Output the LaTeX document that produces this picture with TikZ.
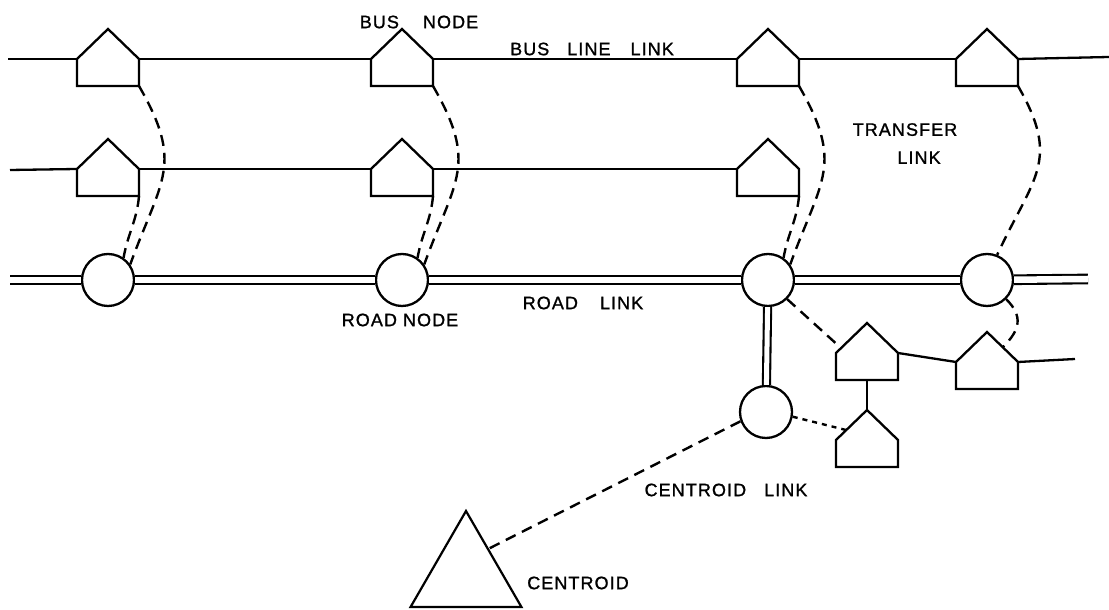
\documentclass[tikz,border=0pt]{standalone}
\usepackage{fontspec}
\setmainfont{Liberation Sans}
\newfontfamily\lblfont[LetterSpace=6, FakeBold=1.2]{Liberation Sans}
\usetikzlibrary{shapes.geometric, calc}
\tikzset{
	busnode/.style ={minimum width=62pt, minimum height=27pt, inner sep=0pt, outer sep=0pt,
		append after command={\pgfextra{\draw[line width=2.3pt, line join=miter]
			(\tikzlastnode.north west) -- (\tikzlastnode.south west) -- (\tikzlastnode.south east)
			-- (\tikzlastnode.north east) -- ([yshift=30pt]\tikzlastnode.north) -- cycle;}}},
	roadnode/.style={circle, draw=black, line width=2.3pt, minimum size=52pt, inner sep=0pt, fill=white},
	centroid/.style={regular polygon, regular polygon sides=3, draw=black, line width=2.2pt, minimum size=128pt, inner sep=0pt},
	busline/.style ={line width=2.3pt},
	roadlink/.style={double, double distance=6.5pt, line width=2.1pt},
	transfer/.style={dash pattern=on 11pt off 7pt, line width=2.4pt},
	lbl/.style     ={inner sep=0pt, font=\lblfont\fontsize{18}{21}\selectfont},
}

\begin{document}
\begin{tikzpicture}[x=1pt, y=1pt]
	\useasboundingbox (0,0) rectangle (1109,610);
	% bus nodes
	\node[busnode] (h11) at (108,537.5) {};
	\node[busnode] (h12) at (402,537.5) {};
	\node[busnode] (h13) at (768,537.5) {};
	\node[busnode] (h14) at (987,537.5) {};
	\node[busnode] (h21) at (108,427.5) {};
	\node[busnode] (h22) at (402,427.5) {};
	\node[busnode] (h23) at (768,427.5) {};
	\node[busnode] (hA) at (867,243.5) {};
	\node[busnode] (hB) at (987,234.5) {};
	\node[busnode] (hC) at (867,156.5) {};
	% road nodes and centroid
	\node[roadnode] (c1) at (108,330) {};
	\node[roadnode] (c2) at (402,330) {};
	\node[roadnode] (c3) at (768,330) {};
	\node[roadnode] (c4) at (987,330) {};
	\node[roadnode] (c5) at (766,198) {};
	\node[centroid] (cen) at (466,35) {};
	\coordinate (b1s) at (8,551);
	\coordinate (b1e) at (1109,553);
	\coordinate (b2s) at (10,440);
	\coordinate (b3e) at (1075,251);
	\coordinate (rs) at (10,330);
	\coordinate (re) at (1088,331);
	% bus line links
	\draw[busline] (b1s) -- (h11.north west);
	\draw[busline] (h11.north east) -- (h12.north west);
	\draw[busline] (h12.north east) -- (h13.north west);
	\draw[busline] (h13.north east) -- (h14.north west);
	\draw[busline] (h14.north east) -- (b1e);
	\draw[busline] (b2s) -- (h21.north west);
	\draw[busline] (h21.north east) -- (h22.north west);
	\draw[busline] (h22.north east) -- (h23.north west);
	\draw[busline] (hA.north east) -- (hB.north west);
	\draw[busline] (hB.north east) -- (b3e);
	\draw[busline] (hA.south) -- ([yshift=30pt]hC.north);
	% road links
	\foreach \a/\b in {rs/c1, c1/c2, c2/c3, c3/c4, c4/re}
		\draw[roadlink] (\a) -- (\b);
	\draw[roadlink, double distance=5pt] (c3) -- (c5);
	% transfer links
	\foreach \h/\c in {h11/c1, h12/c2, h13/c3}
		\draw[transfer] (\h.south east) to[out=-60, in=70, looseness=1.3] (\c.35);
	\foreach \h/\c in {h21/c1, h22/c2, h23/c3}
		\draw[transfer] (\h.south east) to[out=-95, in=80] (\c.55);
	\draw[transfer] (h14.south east) to[out=-60, in=65, looseness=1.3] (c4.68);
	\draw[transfer] (c4.-45) to[out=-45, in=45, looseness=1.3] ([xshift=-15pt,yshift=15pt]hB.north east);
	\draw[transfer] (c3.-45) -- ([xshift=5pt,yshift=5pt]hA.north west);
	\draw[transfer, dash pattern=on 5pt off 5pt] (c5.-10) -- ([xshift=10pt,yshift=10pt]hC.north west);
	% centroid link
	\draw[transfer] (c5.200) -- (cen.49);
	% labels
	\node[lbl] (lbusnode) at (419,588) {BUS\hspace{24pt}NODE};
	\node[lbl] (lbusline) at (592,561) {BUS\hspace{18pt}LINE\hspace{20pt}LINK};
	\node[lbl, align=center] (ltransfer) at (905,466.5) {TRANSFER\\[7pt]\hspace*{28pt}LINK};
	\node[lbl] (lroadnode) at (400,290) {ROAD\hspace{6pt}NODE};
	\node[lbl] (lroadlink) at (583,307) {ROAD\hspace{22pt}LINK};
	\node[lbl] (lcenlink) at (726,120) {CENTROID\hspace{18pt}LINK};
	\node[lbl] (lcentroid) at (578,27) {CENTROID};
\end{tikzpicture}
\end{document}
